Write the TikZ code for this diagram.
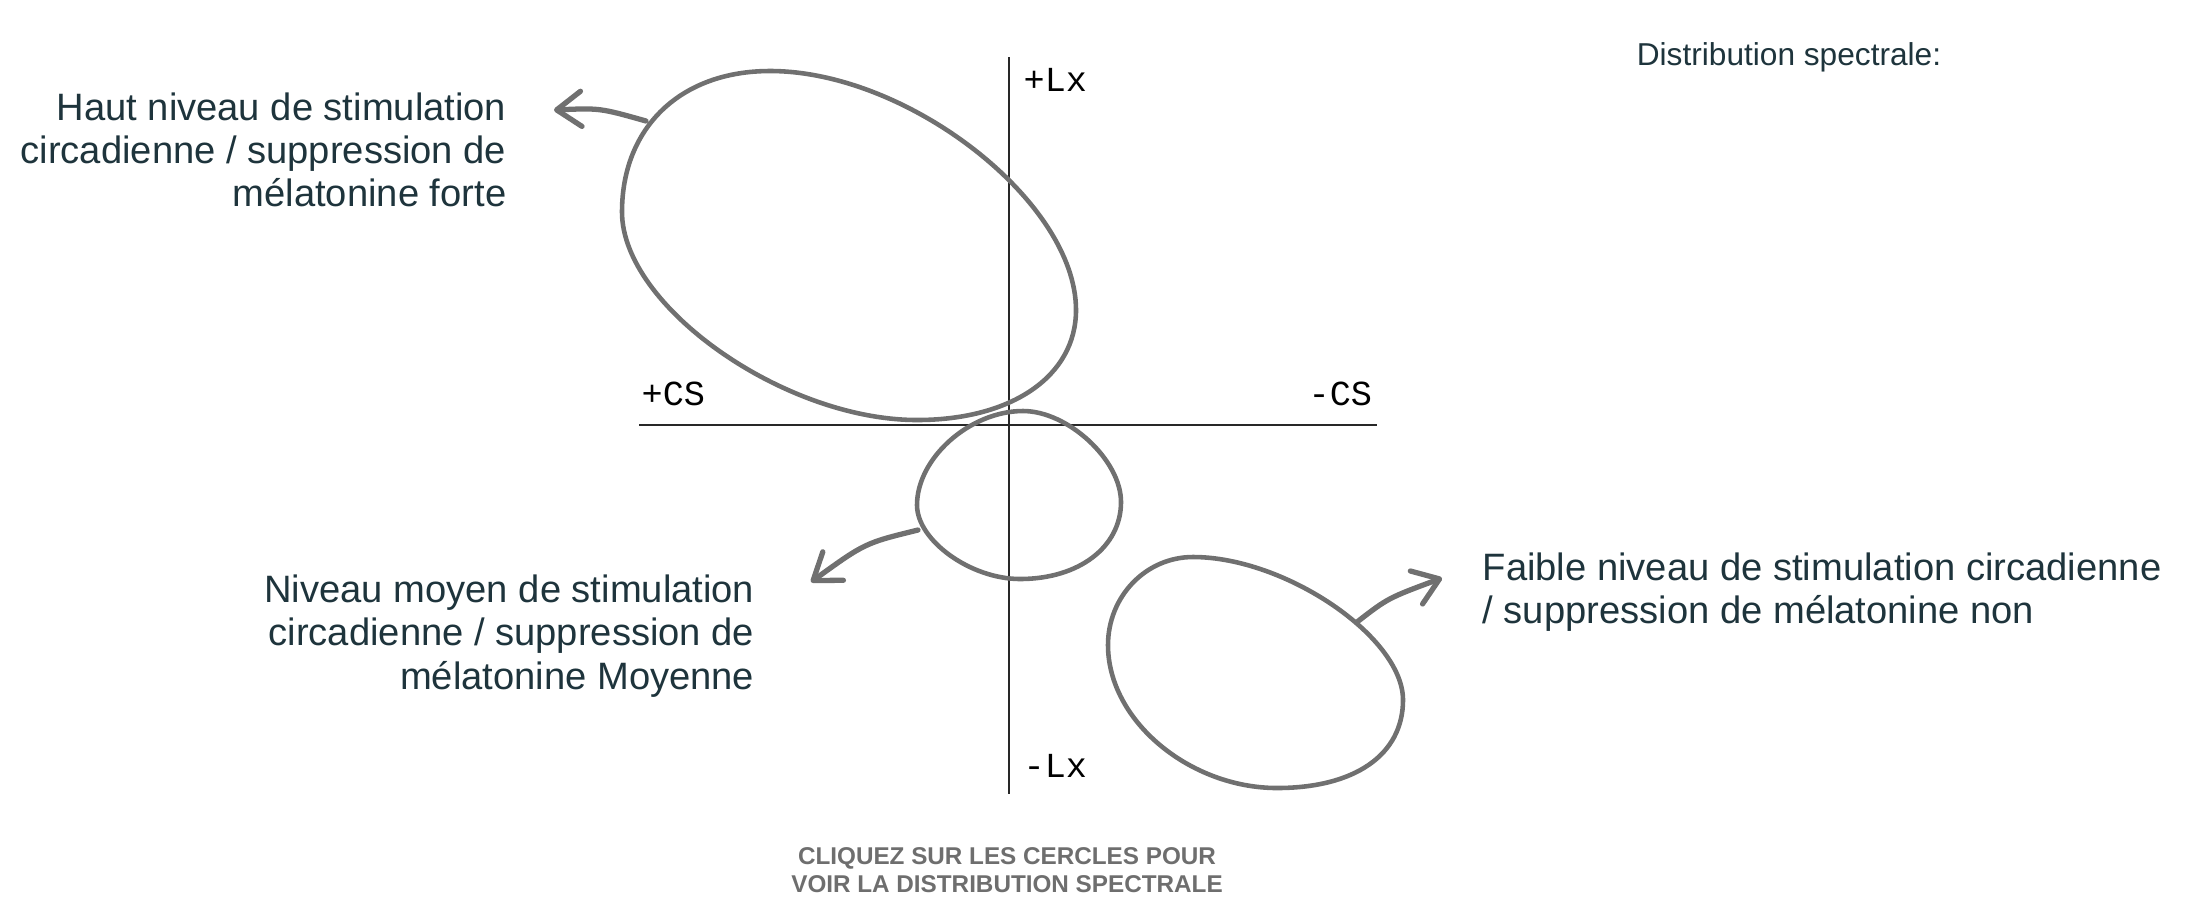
\documentclass[tikz,border=0pt]{standalone}
\usepackage{fontspec}
\setmainfont{Liberation Sans}
\newfontfamily\axisfont{Liberation Mono}
\usetikzlibrary{arrows.meta}
\definecolor{txt}{RGB}{30,52,60}
\definecolor{shapegray}{RGB}{112,112,112}
\definecolor{axisc}{RGB}{40,40,40}
\definecolor{hint}{RGB}{110,110,110}
\begin{document}
\begin{tikzpicture}[x=0.01cm,y=-0.01cm,
  blob/.style={draw=shapegray, line width=1.3pt, line join=round},
  arr/.style={draw=shapegray, line width=1.5pt, line cap=round,
    -{Straight Barb[length=7pt,width=10pt,round]}},
  axisline/.style={draw=axisc, line width=0.45pt},
  lbl/.style={text=txt, font=\fontsize{10.85}{12.2}\selectfont, inner sep=0pt},
  axlbl/.style={text=black, font=\axisfont\fontsize{10}{11}\selectfont, inner sep=0pt},
]
\useasboundingbox (0,0) rectangle (2197,896);

% axes
\coordinate (vtop) at (1009,57);
\coordinate (vbot) at (1009,794);
\coordinate (hleft) at (639,425);
\coordinate (hright) at (1377,425);
\draw[axisline] (vtop) -- (vbot);
\draw[axisline] (hleft) -- (hright);

\node[axlbl, anchor=base west] (plx) at (1023,91) {+Lx};
\node[axlbl, anchor=base west] (pcs) at (641,405) {+CS};
\node[axlbl, anchor=base west] (mcs) at (1308,405) {-CS};
\node[axlbl, anchor=base west] (mlx) at (1023,777) {-Lx};

% shapes
\draw[blob] (770,71) .. controls (908,71) and (1076,202) .. (1076,310)
  .. controls (1076,376) and (1012,420) .. (917,420)
  .. controls (784,420) and (622,306) .. (622,212)
  .. controls (622,127) and (681,71) .. (770,71) -- cycle;
\draw[blob] (1023,411) .. controls (1068,411) and (1121,460) .. (1121,502)
  .. controls (1121,547) and (1079,579) .. (1020,579)
  .. controls (970.6,579) and (917,540.5) .. (917,505)
  .. controls (917,458) and (970,411) .. (1023,411) -- cycle;
\draw[blob] (1193,557) .. controls (1285,557) and (1403,637) .. (1403,700)
  .. controls (1403,754.6) and (1355,788) .. (1277,788)
  .. controls (1190,788) and (1108,721) .. (1108,645)
  .. controls (1108,596.6) and (1145.6,557) .. (1193,557) -- cycle;

% arrows
\coordinate (a1) at (646,121);
\coordinate (a2) at (554,110);
\coordinate (b1) at (918,530);
\coordinate (b2) at (811,582);
\coordinate (c1) at (1357,622);
\coordinate (c2) at (1442,578);
\draw[arr] (a1) .. controls (600,108) .. (a2);
\draw[arr] (b1) .. controls (865,543) .. (b2);
\draw[arr] (c1) .. controls (1388,598) .. (c2);

% labels
\node[lbl, anchor=east, align=right] (la) at (507,150)
  {Haut niveau de stimulation\\circadienne / suppression de\\mélatonine forte};
\node[lbl, anchor=east, align=right, font=\fontsize{10.85}{12.4}\selectfont] (lb) at (755,636)
  {Niveau moyen de stimulation\\circadienne / suppression de\\mélatonine Moyenne};
\node[lbl, anchor=west, align=left] (lc) at (1482,592)
  {Faible niveau de stimulation circadienne\\/ suppression de mélatonine non};

\node[text=txt, font=\fontsize{9}{10}\selectfont, inner sep=0pt] (ds) at (1789,57)
  {Distribution spectrale:};

\node[text=hint, font=\bfseries\fontsize{6.9}{8}\selectfont, align=center, inner sep=0pt] (hintn) at (1007,870)
  {CLIQUEZ SUR LES CERCLES POUR\\VOIR LA DISTRIBUTION SPECTRALE};
\end{tikzpicture}
\end{document}
